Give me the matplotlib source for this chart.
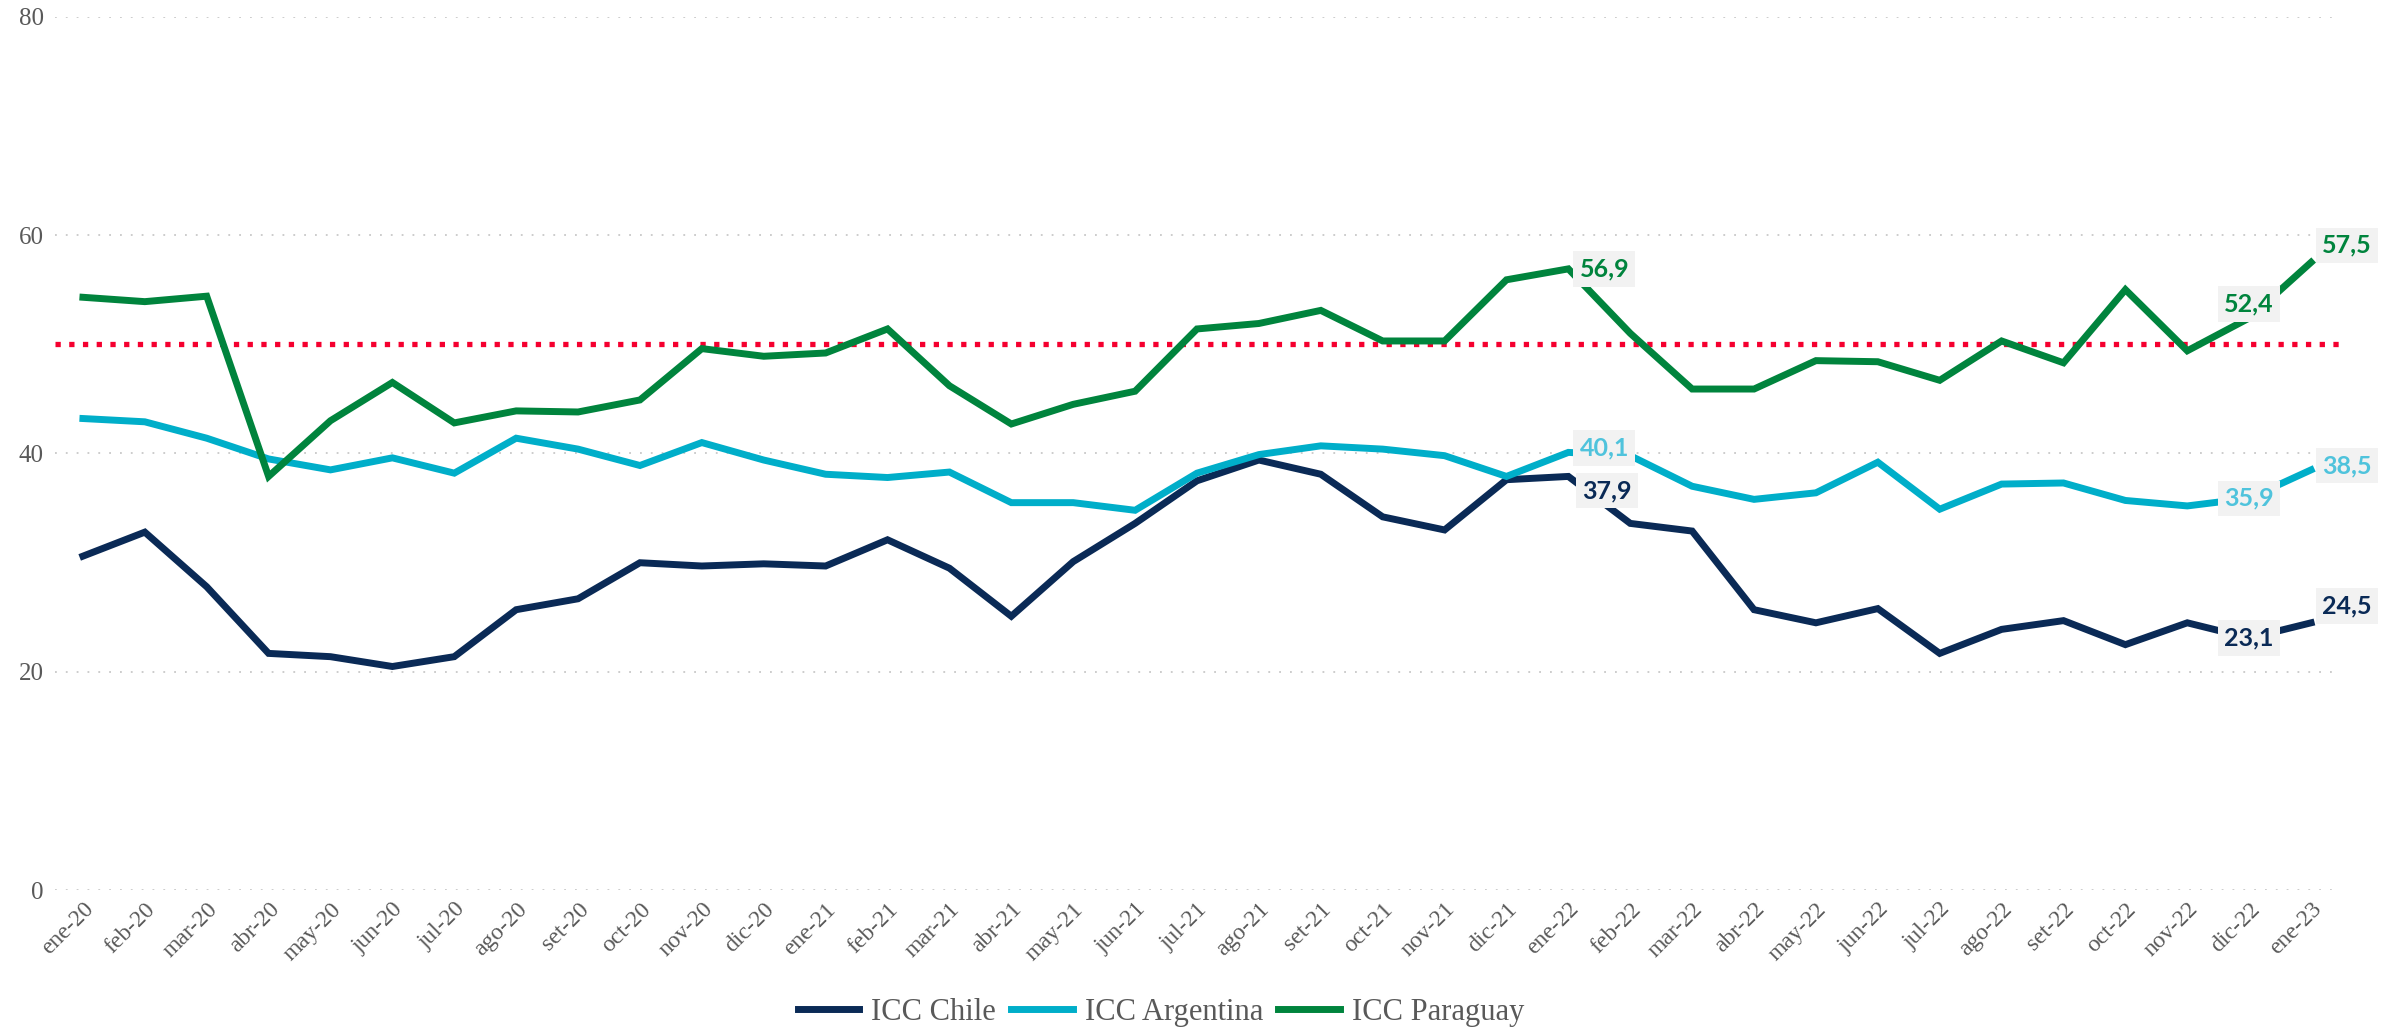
import numpy as np
import matplotlib
matplotlib.use("Agg")
import matplotlib.pyplot as plt

months = ["ene-20", "feb-20", "mar-20", "abr-20", "may-20", "jun-20", "jul-20", "ago-20",
          "set-20", "oct-20", "nov-20", "dic-20", "ene-21", "feb-21", "mar-21", "abr-21",
          "may-21", "jun-21", "jul-21", "ago-21", "set-21", "oct-21", "nov-21", "dic-21",
          "ene-22", "feb-22", "mar-22", "abr-22", "may-22", "jun-22", "jul-22", "ago-22",
          "set-22", "oct-22", "nov-22", "dic-22", "ene-23"]

icc_chile = [30.6, 32.8, 27.8, 21.7, 21.4, 20.5, 21.4, 25.7, 26.7, 30.0, 29.7, 29.9,
             29.7, 32.1, 29.5, 25.1, 30.1, 33.6, 37.5, 39.4, 38.1, 34.2, 33.0, 37.6,
             37.9, 33.6, 32.9, 25.7, 24.5, 25.8, 21.7, 23.9, 24.7, 22.5, 24.5, 23.1, 24.5]
icc_argentina = [43.2, 42.9, 41.4, 39.5, 38.5, 39.6, 38.2, 41.4, 40.4, 38.9, 41.0, 39.4,
                 38.1, 37.8, 38.3, 35.5, 35.5, 34.8, 38.2, 39.9, 40.7, 40.4, 39.8, 37.9,
                 40.1, 39.8, 37.0, 35.8, 36.4, 39.2, 34.9, 37.2, 37.3, 35.7, 35.2, 35.9, 38.5]
icc_paraguay = [54.3, 53.9, 54.4, 37.9, 43.0, 46.5, 42.8, 43.9, 43.8, 44.9, 49.6, 48.9,
                49.2, 51.4, 46.2, 42.7, 44.5, 45.7, 51.4, 51.9, 53.1, 50.3, 50.3, 55.9,
                56.9, 51.0, 45.9, 45.9, 48.5, 48.4, 46.7, 50.3, 48.3, 55.0, 49.4, 52.4, 57.5]
threshold = 50

series = [
    ("ICC Chile", icc_chile, "#0a2a56", "#0a2a56"),
    ("ICC Argentina", icc_argentina, "#00aec9", "#4fc3dc"),
    ("ICC Paraguay", icc_paraguay, "#00843d", "#00843d"),
]

# which points get a value label, and where (dx, dy in points, ha, va)
labels = {
    "ICC Chile": [(24, 10, -2, "left", "top"), (35, 0, 0, "center", "center"), (36, 8, 4, "left", "bottom")],
    "ICC Argentina": [(24, 8, 3, "left", "center"), (35, 0, 0, "center", "center"), (36, 8, 3, "left", "center")],
    "ICC Paraguay": [(24, 8, 0, "left", "center"), (35, 0, 2, "center", "bottom"), (36, 8, 4, "left", "bottom")],
}

serif = ["Liberation Serif", "DejaVu Serif"]
lab_font = ["Liberation Sans Narrow", "Lato", "DejaVu Sans"]

fig = plt.figure(figsize=(23.94, 10.33), dpi=100)
ax = fig.add_axes([0.023, 0.138, 0.954, 0.846])

x = np.arange(len(months))
for name, vals, color, tcolor in series:
    ax.plot(x, vals, color=color, linewidth=5, label=name, solid_joinstyle="miter", zorder=3)

ax.axhline(threshold, color="#f5002f", linewidth=3.8, linestyle=(0, (1, 1.6)), zorder=2)

for name, vals, color, tcolor in series:
    for idx, dx, dy, ha, va in labels[name]:
        v = vals[idx]
        ax.annotate(f"{v:.1f}".replace(".", ","), (idx, v), xytext=(dx, dy),
                    textcoords="offset points", ha=ha, va=va, fontsize=18,
                    fontweight="bold", color=tcolor, family=lab_font, zorder=5,
                    bbox=dict(boxstyle="square,pad=0.25", fc="#f2f2f2", ec="none"))

ax.set_xlim(-0.45, 36.45)
ax.set_ylim(0, 80)
ax.set_yticks([0, 20, 40, 60, 80])
ax.set_xticks(x)
ax.set_xticklabels(months, rotation=45, ha="right", rotation_mode="anchor")
for lbl in ax.get_xticklabels():
    lbl.set_family(serif)
    lbl.set_fontsize(17)
    lbl.set_color("#595959")
for lbl in ax.get_yticklabels():
    lbl.set_family(serif)
    lbl.set_fontsize(18)
    lbl.set_color("#595959")
ax.tick_params(length=0, axis="y", pad=8)
ax.tick_params(length=0, axis="x", pad=6)
ax.grid(axis="y", color="#c8c8c8", linestyle=(0, (1, 5)), linewidth=1.3)
for s in ax.spines.values():
    s.set_visible(False)

fig.legend(*ax.get_legend_handles_labels(), loc="center", bbox_to_anchor=(0.485, 0.02),
           ncol=3, frameon=False, prop={"family": serif, "size": 22},
           handlelength=2.0, columnspacing=0.5, handletextpad=0.4, labelcolor="#595959")

fig.savefig("out.png", dpi=100)
